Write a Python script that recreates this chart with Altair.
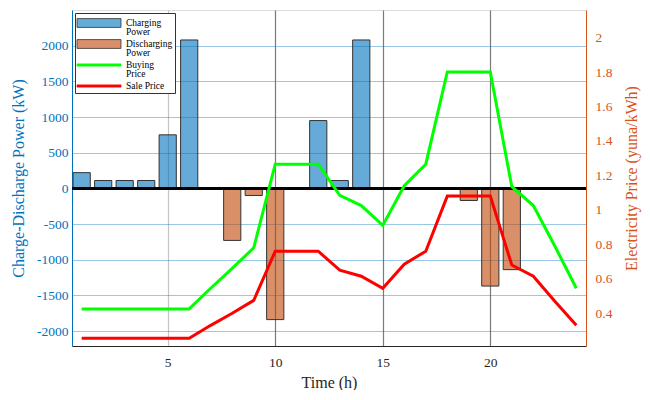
import altair as alt
import pandas as pd

# ---- data ----
hours = list(range(1, 25))
power_kw = [220, 110, 110, 110, 750, 2080, 0, -730, -100, -1840, 0, 950,
            110, 2080, 0, 0, 0, 0, -170, -1370, -1140, 0, 0, 0]
buy_price = [0.425, 0.425, 0.425, 0.425, 0.425, 0.425, 0.545, 0.66, 0.78, 1.265, 1.265, 1.265,
             1.085, 1.025, 0.91, 1.14, 1.265, 1.8, 1.8, 1.8, 1.135, 1.025, 0.79, 0.545]
sale_price = [0.255, 0.255, 0.255, 0.255, 0.255, 0.255, 0.33, 0.40, 0.475, 0.76, 0.76, 0.76,
              0.65, 0.615, 0.545, 0.685, 0.76, 1.08, 1.08, 1.08, 0.68, 0.615, 0.47, 0.33]
series_names = ["Charging Power", "Discharging Power", "Buying Price", "Sale Price"]
bar_colors = ["#0072BD", "#C04605"]
legend_fills = ["#63ADD8", "#D9906A", "#00FF00", "#FF0000"]
legend_strokes = ["#333333", "#333333", "#00FF00", "#FF0000"]
line_colors = ["#00FF00", "#FF0000"]
legend_shapes = ["M-3,-0.6H3V0.6H-3Z", "M-3,-0.6H3V0.6H-3Z", "M-3,-0.15H3V0.15H-3Z", "M-3,-0.15H3V0.15H-3Z"]
power_ticks = [-2000, -1500, -1000, -500, 0, 500, 1000, 1500, 2000]
price_ticks = [0.4, 0.6, 0.8, 1.0, 1.2, 1.4, 1.6, 1.8, 2.0]
hour_ticks = [5, 10, 15, 20]

FONT = "Liberation Serif"
BLUE = "#0072BD"
ORANGE = "#D95319"
DARK = "#262626"

bars_df = pd.DataFrame({"hour": hours, "power": power_kw})
bars_df = bars_df[bars_df["power"] != 0].copy()
bars_df["series"] = bars_df["power"].apply(lambda v: series_names[0] if v > 0 else series_names[1])

lines_df = pd.concat([
    pd.DataFrame({"hour": hours, "price": buy_price, "series": series_names[2]}),
    pd.DataFrame({"hour": hours, "price": sale_price, "series": series_names[3]}),
])

x_scale = alt.Scale(domain=[0.55, 24.45], nice=False, zero=False)
x_axis = alt.Axis(
    values=hour_ticks, title="Time (h)", grid=True,
    gridColor={"condition": {"test": "datum.value == 5", "value": "#c4c4c4"}, "value": "#7a7a7a"},
    gridWidth=1.2, ticks=False, labelFontSize=13.5, titleFontSize=16,
    domainColor=DARK, labelColor=DARK, titleColor=DARK, titleFontWeight="normal",
    labelPadding=9, titlePadding=6, labelFont=FONT, titleFont=FONT,
)

y_scale = alt.Scale(domain=[-2210, 2500], nice=False, zero=False)
y_axis = alt.Axis(
    values=power_ticks, title="Charge-Discharge Power (kW)", orient="left",
    grid=True, gridColor=BLUE, gridOpacity=0.4, gridWidth=1.2, ticks=False,
    domainColor=BLUE, labelColor=BLUE, titleColor=BLUE, titleFontWeight="normal",
    labelFontSize=13.5, titleFontSize=16, labelPadding=4, titlePadding=10,
    labelFont=FONT, titleFont=FONT, labelExpr="datum.value + ''",
)

p_scale = alt.Scale(domain=[0.21, 2.16], nice=False, zero=False)
p_axis = alt.Axis(
    values=price_ticks, title="Electricity Price (yuna/kWh)", orient="right",
    grid=False, ticks=False, format="~g",
    domainColor=ORANGE, labelColor=ORANGE, titleColor=ORANGE, titleFontWeight="normal",
    labelFontSize=13.5, titleFontSize=16, labelPadding=9, titlePadding=12,
    titleAngle=270, titleBaseline="top",
    labelFont=FONT, titleFont=FONT,
)

legend = alt.Legend(
    title=None, orient="none", legendX=3, legendY=3,
    labelExpr="datum.label == 'Sale Price' ? datum.label : split(datum.label, ' ')",
    labelFont=FONT, labelFontSize=9.5, labelColor="#000000",
    symbolSize=215, symbolOffset=14, labelOffset=19, symbolStrokeWidth=0.8,
    strokeColor="#333333", fillColor="#ffffff", padding=2, rowPadding=0,
)

bars = alt.Chart(bars_df).transform_calculate(
    x1="datum.hour - 0.4", x2="datum.hour + 0.4"
).mark_bar(fillOpacity=0.6, stroke="#333333", strokeWidth=1).encode(
    x=alt.X("x1:Q", scale=x_scale, axis=x_axis),
    x2="x2:Q",
    y=alt.Y("power:Q", scale=y_scale, axis=y_axis),
    y2=alt.datum(0),
    fill=alt.condition(f"datum.series == '{series_names[0]}'", alt.value(bar_colors[0]), alt.value(bar_colors[1])),
)

zero_line = alt.Chart(bars_df).mark_rule(color="#000000", strokeWidth=2).encode(
    y=alt.Y(datum=0, scale=y_scale, axis=y_axis),
)

def price_line(name, colour):
    return alt.Chart(lines_df).transform_filter(f"datum.series == '{name}'").mark_line(
        strokeWidth=3, color=colour
    ).encode(
        x=alt.X("hour:Q", scale=x_scale, axis=x_axis),
        y=alt.Y("price:Q", scale=p_scale, axis=p_axis),
    )

buy_line = price_line(series_names[2], line_colors[0])
sale_line = price_line(series_names[3], line_colors[1])

# legend-only layer (no rows drawn): carries the mixed bar / line legend symbols
legend_layer = alt.Chart(lines_df).transform_filter("false").mark_point(fillOpacity=1, opacity=1).encode(
    x=alt.X("hour:Q", scale=x_scale, axis=x_axis),
    y=alt.Y("price:Q", scale=p_scale, axis=p_axis),
    fill=alt.Fill("series:N", scale=alt.Scale(domain=series_names, range=legend_fills), legend=legend),
    stroke=alt.Stroke("series:N", scale=alt.Scale(domain=series_names, range=legend_strokes), legend=legend),
    shape=alt.Shape("series:N", scale=alt.Scale(domain=series_names, range=legend_shapes), legend=legend),
)

left = alt.layer(bars, zero_line)
right = alt.layer(buy_line, sale_line, legend_layer)
chart = alt.layer(left, right).resolve_scale(y="independent").properties(
    width=514, height=336,
    autosize=alt.AutoSizeParams(type="none"),
    padding={"left": 64, "top": 2, "right": 56, "bottom": 44},
).configure_view(stroke="#8a8a8a", strokeWidth=1).configure(
    font=FONT, style={"guide-label": {"lineHeight": 8.5}}
)

chart.save("out.html", embed_options={"renderer": "svg", "actions": False})
